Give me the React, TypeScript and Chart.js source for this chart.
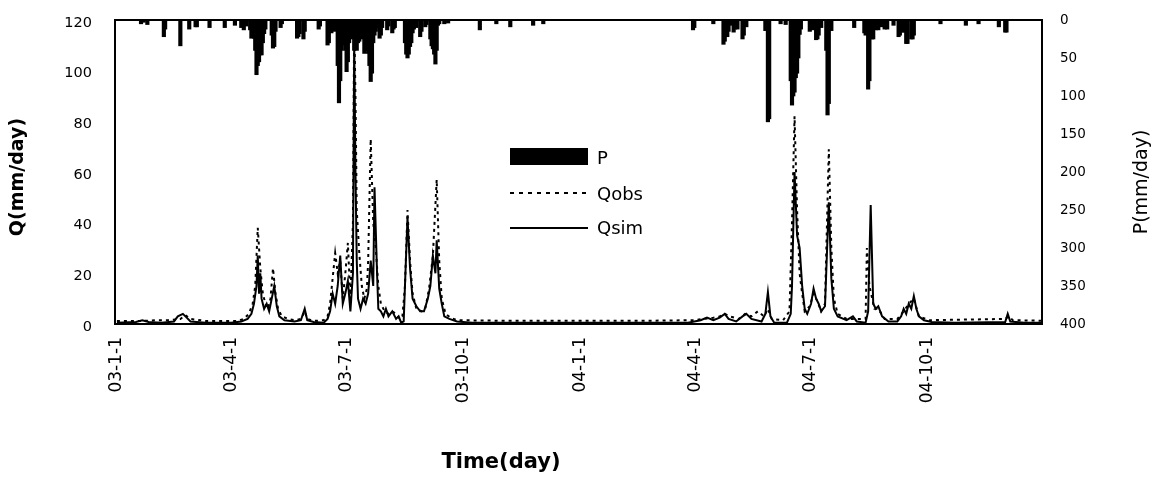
import React, { useEffect, useRef } from 'react';
import { Chart, registerables } from 'chart.js';

Chart.register(...registerables);

// x axis: days since 2003-01-01
const tickDays = [0, 90, 181, 273, 365, 456, 547, 639];
const tickLabels = ['03-1-1', '03-4-1', '03-7-1', '03-10-1', '04-1-1', '04-4-1', '04-7-1', '04-10-1'];

// precipitation P (mm/day), rainy days only
const pDays = [
  19, 21, 24, 37, 38, 50, 57, 62, 63, 73, 85, 93, 98, 100, 102, 105, 106, 107, 108, 109, 110, 111, 112, 113,
  114, 115, 116, 117, 122, 123, 124, 125, 129, 130, 142, 143, 144, 147, 148, 159, 160, 166, 167, 169, 170, 171,
  174, 175, 176, 177, 178, 179, 180, 181, 182, 183, 184, 185, 186, 187, 188, 189, 190, 191, 192, 193, 195, 196,
  197, 198, 199, 200, 201, 202, 203, 204, 205, 207, 208, 209, 213, 214, 217, 218, 219, 227, 228, 229, 230, 231,
  232, 233, 234, 236, 239, 240, 243, 244, 247, 248, 249, 250, 251, 252, 253, 254, 258, 261, 286, 299, 310, 328,
  336,
  454, 455, 470, 478, 479, 481, 482, 484, 486, 487, 489, 493, 494, 496, 511, 513, 514, 523, 527, 531, 532, 533,
  534, 535, 536, 537, 538, 539, 546, 548, 550, 551, 552, 553, 555, 559, 560, 561, 563, 581, 589, 590, 592, 593,
  595, 596, 598, 600, 603, 605, 607, 612, 616, 617, 619, 620, 622, 623, 626, 627, 628, 649, 669, 679, 695, 700,
  701,
];
const pVals = [
  5, 3, 6, 22, 12, 34, 12, 9, 9, 10, 10, 7, 10, 13, 8, 13, 24, 20, 24, 40, 72, 60, 55, 46,
  46, 30, 18, 12, 20, 37, 35, 15, 10, 5, 24, 22, 18, 25, 15, 12, 8, 33, 30, 17, 12, 15,
  60, 109, 80, 40, 33, 25, 40, 68, 55, 30, 20, 15, 25, 40, 35, 40, 30, 28, 20, 25, 44, 40,
  30, 44, 60, 81, 70, 30, 20, 15, 10, 24, 20, 10, 13, 8, 17, 12, 10, 30, 45, 50, 45, 35,
  30, 17, 12, 10, 22, 15, 9, 6, 25, 34, 38, 45, 58, 40, 7, 5, 5, 4, 13, 5, 9, 7,
  5,
  13, 10, 5, 32, 28, 22, 15, 7, 16, 12, 12, 25, 20, 9, 14, 134, 130, 5, 6, 80, 112, 100,
  95, 76, 70, 50, 19, 12, 15, 13, 12, 26, 25, 20, 10, 40, 125, 110, 14, 10, 17, 20, 91, 80,
  25, 25, 13, 13, 9, 12, 12, 7, 22, 20, 16, 16, 31, 31, 25, 25, 20, 5, 7, 5, 9, 16,
  16,
];

// observed discharge Qobs (mm/day)
const obsDays = [
  0, 20, 30, 40, 50, 54, 58, 70, 95, 100, 104, 107, 109, 111, 113, 115, 117, 119, 121, 123, 125, 127, 130, 135,
  140, 145, 148, 150, 155, 163, 166, 168, 170, 172, 174, 176, 178, 180, 182, 184, 186, 187, 188, 189, 191, 193,
  195, 197, 198, 200, 202, 204, 206, 208, 211, 214, 217, 220, 223, 225, 227, 229, 231, 233, 236, 240, 243, 246,
  249, 252, 254, 256, 259, 263, 268, 300, 365, 420, 455, 462, 470, 475, 479, 483, 490, 495, 500, 505, 510, 513,
  516, 525, 530, 532, 534, 536, 538, 540, 542, 546, 549, 552, 555, 558, 561, 563, 565, 568, 575, 585, 590, 591,
  593, 597, 600, 605, 615, 620, 624, 628, 632, 640, 700, 703, 706, 729,
];
const obsVals = [
  1.2, 1.2, 1.5, 1.5, 2, 3.5, 2, 1.2, 1.2, 2, 4, 8, 15, 38, 22, 12, 8, 6, 10, 22, 12, 6, 3, 2,
  1.5, 2, 5, 2, 1.2, 1.5, 3, 8, 18, 28, 20, 25, 10, 20, 32, 10, 40, 120, 90, 45, 28, 15,
  10, 14, 25, 73, 40, 30, 15, 8, 5, 4, 5, 4, 2, 3, 15, 45, 25, 12, 6, 5, 6, 14,
  27, 57, 25, 10, 4, 2.5, 1.5, 1.3, 1.3, 1.3, 1.5, 2, 2.5, 3, 4, 3, 2, 4, 3, 5, 3, 6,
  2, 1.5, 5, 40, 82, 45, 20, 12, 5, 7, 12, 9, 5, 8, 69, 30, 10, 4, 2, 2, 2, 30,
  15, 6, 6, 2, 2, 5, 8, 10, 3, 1.5, 2, 3, 1.5, 1.3,
];

// simulated discharge Qsim (mm/day)
const simDays = [
  0, 15, 20, 25, 35, 45, 48, 52, 55, 58, 70, 90, 98, 103, 106, 108, 110, 111, 112, 113, 114, 116, 118, 120,
  122, 124, 126, 128, 132, 140, 145, 148, 150, 155, 163, 166, 168, 170, 172, 174, 176, 178, 180, 182, 184, 186,
  187, 188, 189, 190, 192, 194, 196, 198, 200, 202, 203, 205, 206, 208, 210, 212, 214, 217, 220, 222, 224, 226,
  227, 229, 231, 233, 236, 239, 242, 245, 247, 249, 251, 252, 254, 256, 258, 262, 268, 280, 450, 460, 465, 470,
  475, 479, 482, 488, 493, 496, 500, 508, 511, 513, 515, 518, 528, 531, 532, 534, 536, 538, 540, 542, 544, 547,
  549, 551, 553, 555, 558, 561, 563, 565, 568, 575, 580, 583, 590, 592, 594, 596, 598, 600, 603, 608, 615, 618,
  620, 622, 624, 626, 628, 630, 632, 636, 642, 660, 700, 702, 704, 715, 729,
];
const simVals = [
  0.5, 0.8, 1.5, 0.8, 0.5, 1, 3, 4, 2.5, 1, 0.5, 0.5, 1, 2, 4, 8, 15, 27, 12, 20, 10, 6, 8, 5,
  10, 15, 7, 3, 1.5, 1, 1.5, 6, 1.5, 0.8, 0.5, 2, 5, 12, 8, 15, 27, 8, 12, 17, 5, 20,
  112, 60, 25, 10, 6, 10, 8, 12, 25, 15, 54, 20, 6, 5, 3, 6, 3, 5, 2, 3, 0.5, 1,
  15, 42, 22, 10, 7, 5, 5, 10, 15, 27, 20, 33, 14, 8, 3, 2, 1, 0.5, 0.5, 1.5, 2.5, 1.5,
  2.5, 4, 2, 1, 3, 4, 2, 1, 4, 12.6, 3, 0.5, 0.5, 4, 15, 60, 35, 30, 15, 6, 4, 8,
  14, 10, 8, 5, 7, 48, 18, 6, 3, 1.5, 3, 1, 0.5, 5, 47, 8, 6, 7, 3, 1, 1, 3,
  6, 4, 8, 6, 11, 6, 3, 1.5, 0.8, 0.5, 0.8, 4, 1, 0.5, 0.5,
];

const FONT = '"DejaVu Sans", sans-serif';

const overlayPlugin = {
  id: 'overlay',
  afterDraw(chart: any) {
    const { ctx, chartArea: a } = chart;
    ctx.save();
    // frame
    ctx.strokeStyle = '#000';
    ctx.lineWidth = 2;
    ctx.setLineDash([]);
    ctx.strokeRect(a.left, a.top, a.right - a.left, a.bottom - a.top);

    // legend
    const lx = a.left + 395;
    const lw = 78;
    const tx = a.left + 482;
    ctx.fillStyle = '#000';
    ctx.fillRect(lx, a.top + 128, lw, 17);
    ctx.lineWidth = 2;
    ctx.setLineDash([4, 5]);
    ctx.beginPath();
    ctx.moveTo(lx, a.top + 173);
    ctx.lineTo(lx + lw, a.top + 173);
    ctx.stroke();
    ctx.setLineDash([]);
    ctx.beginPath();
    ctx.moveTo(lx, a.top + 208);
    ctx.lineTo(lx + lw, a.top + 208);
    ctx.stroke();
    ctx.font = `18px ${FONT}`;
    ctx.textAlign = 'left';
    ctx.textBaseline = 'middle';
    ctx.fillText('P', tx, a.top + 139);
    ctx.fillText('Qobs', tx, a.top + 175);
    ctx.fillText('Qsim', tx, a.top + 209);

    // axis titles
    ctx.textAlign = 'center';
    ctx.textBaseline = 'middle';
    ctx.save();
    ctx.translate(a.left - 97, a.top + 157);
    ctx.rotate(-Math.PI / 2);
    ctx.font = `bold 19px ${FONT}`;
    ctx.fillText('Q(mm/day)', 0, 0);
    ctx.restore();

    ctx.save();
    ctx.translate(a.right + 100, a.top + 162);
    ctx.rotate(-Math.PI / 2);
    ctx.font = `19px ${FONT}`;
    ctx.fillText('P(mm/day)', 0, 0);
    ctx.restore();

    ctx.font = `bold 21px ${FONT}`;
    ctx.fillText('Time(day)', a.left + 386, a.bottom + 139);
    ctx.restore();
  },
};

export default function App() {
  const canvasRef = useRef<HTMLCanvasElement | null>(null);

  useEffect(() => {
    const canvas = canvasRef.current;
    if (!canvas) return;
    const chart = new Chart(canvas, {
      type: 'line',
      data: {
        datasets: [
          {
            type: 'bar',
            label: 'P',
            yAxisID: 'y2',
            data: pDays.map((d, i) => ({ x: d, y: pVals[i] })),
            backgroundColor: '#000',
            borderWidth: 0,
            barThickness: 3.5,
            order: 3,
          } as any,
          {
            type: 'line',
            label: 'Qobs',
            yAxisID: 'y',
            data: obsDays.map((d, i) => ({ x: d, y: obsVals[i] })),
            borderColor: '#000',
            borderWidth: 2,
            borderDash: [3, 4],
            pointRadius: 0,
            tension: 0,
            fill: false,
            order: 2,
          },
          {
            type: 'line',
            label: 'Qsim',
            yAxisID: 'y',
            data: simDays.map((d, i) => ({ x: d, y: simVals[i] })),
            borderColor: '#000',
            borderWidth: 2,
            pointRadius: 0,
            tension: 0,
            fill: false,
            order: 1,
          },
        ],
      },
      options: {
        animation: false,
        responsive: true,
        maintainAspectRatio: false,
        layout: { padding: { top: 12, left: 0, right: 0, bottom: 0 } },
        plugins: {
          legend: { display: false },
          tooltip: { enabled: false },
        },
        scales: {
          x: {
            type: 'linear',
            min: -1.5,
            max: 729,
            offset: false,
            afterBuildTicks: (s: any) => {
              s.ticks = tickDays.map((v) => ({ value: v }));
            },
            afterFit: (s: any) => {
              s.height = 148;
              s.paddingLeft = 0;
              s.paddingRight = 0;
            },
            grid: { display: false, drawTicks: false },
            border: { display: false },
            ticks: {
              autoSkip: false,
              minRotation: 90,
              maxRotation: 90,
              padding: 13,
              color: '#000',
              font: { family: FONT, size: 17 },
              callback: (v: any) => {
                const i = tickDays.indexOf(Number(v));
                return i >= 0 ? tickLabels[i] : '';
              },
            },
          },
          y: {
            type: 'linear',
            position: 'left',
            min: 0,
            max: 120,
            afterFit: (s: any) => {
              s.width = 107;
              s.paddingTop = 0;
              s.paddingBottom = 0;
            },
            grid: { display: false, drawTicks: false },
            border: { display: false },
            ticks: {
              stepSize: 20,
              padding: 23,
              labelOffset: 3,
              color: '#000',
              font: { family: FONT, size: 14.5 },
            },
          },
          y2: {
            type: 'linear',
            position: 'right',
            min: 0,
            max: 400,
            reverse: true,
            afterFit: (s: any) => {
              s.width = 109;
              s.paddingTop = 0;
              s.paddingBottom = 0;
            },
            grid: { display: false, drawTicks: false },
            border: { display: false },
            ticks: {
              stepSize: 50,
              padding: 18,
              color: '#000',
              font: { family: FONT, size: 13.5 },
            },
          },
        },
      },
      plugins: [overlayPlugin],
    });
    return () => chart.destroy();
  }, []);

  return (
    <div style={{ position: 'relative', width: '1143px', height: '464px' }}>
      <canvas ref={canvasRef} />
    </div>
  );
}
